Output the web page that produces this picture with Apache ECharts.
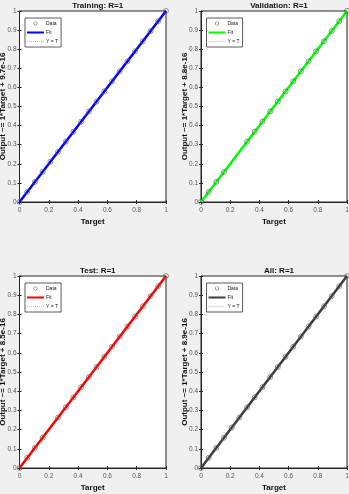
<!DOCTYPE html>
<html>
<head>
<meta charset="utf-8">
<script src="https://cdn.jsdelivr.net/npm/echarts@6/dist/echarts.min.js"></script>
<style>
  html, body { margin: 0; padding: 0; background: #f0f0f0; }
  #chart { width: 349px; height: 494px; }
</style>
</head>
<body>
<div id="chart"></div>
<script>
// targets of each data subset (outputs equal targets, R=1)
const trainingTargets = [0, 0.053, 0.105, 0.158, 0.211, 0.263, 0.316, 0.368, 0.421, 0.474, 0.526, 0.579, 0.632, 0.684, 0.737, 0.789, 0.842, 0.895, 0.947, 1];
const validationTargets = [0, 0.053, 0.105, 0.158, 0.316, 0.368, 0.421, 0.474, 0.526, 0.579, 0.632, 0.684, 0.737, 0.789, 0.842, 0.895, 0.947, 1];
const testTargets = [0, 0.053, 0.105, 0.158, 0.263, 0.316, 0.368, 0.421, 0.474, 0.526, 0.579, 0.632, 0.684, 0.737, 0.789, 0.842, 0.895, 0.947, 1];
const allTargets = [0, 0.053, 0.105, 0.158, 0.211, 0.263, 0.316, 0.368, 0.421, 0.474, 0.526, 0.579, 0.632, 0.684, 0.737, 0.789, 0.842, 0.895, 0.947, 1];

const fitEnds = [0, 1];
const titles = ['Training: R=1', 'Validation: R=1', 'Test: R=1', 'All: R=1'];
const offsets = ['9.7e-16', '8.8e-16', '8.5e-16', '8.9e-16'];
const fitColors = ['#0000ff', '#00ff00', '#ff0000', '#3c3c3c'];
const panelData = [trainingTargets, validationTargets, testTargets, allTargets];

const grids = [
  { left: 19.5, top: 11, width: 146.5, height: 191 },
  { left: 201, top: 11, width: 146, height: 191 },
  { left: 19.5, top: 276, width: 146.5, height: 192 },
  { left: 201, top: 276, width: 146, height: 192 },
];

const font = 'Liberation Sans, Arial, sans-serif';
const axisColor = '#262626';
const labelColor = '#555';

// legend icons: 17x4 boxes (hairline corners keep the box size)
const frame = 'M0,0H17V0.01H0Z M0,3.99H17V4H0Z ';
const ringIcon = 'path://M0,10A10,10 0 1,1 20,10A10,10 0 1,1 0,10Z M3,10A7,7 0 1,0 17,10A7,7 0 1,0 3,10Z';
const fitIcon = 'path://' + frame + 'M0,1H17V3H0Z';
let dots = '';
for (let x = 0; x < 17; x += 2) dots += 'M' + x + ',1.6H' + (x + 1) + 'V2.4H' + x + 'Z ';
const dotIcon = 'path://' + frame + dots;

const option = {
  backgroundColor: '#f0f0f0',
  animation: false,
  textStyle: { fontFamily: font },
  title: [],
  legend: [],
  grid: [],
  xAxis: [],
  yAxis: [],
  series: [],
};

grids.forEach((g, i) => {
  option.grid.push({
    left: g.left, top: g.top, width: g.width, height: g.height,
    outerBoundsMode: 'none', containLabel: false,
    show: true, backgroundColor: '#fff', borderColor: axisColor, borderWidth: 1,
  });

  option.title.push({
    text: titles[i],
    left: g.left + g.width / 2,
    top: g.top - 14,
    textAlign: 'center',
    textStyle: { fontSize: 8, fontWeight: 'bold', color: '#111', fontFamily: font },
  });

  // bottom / left axes with labels
  option.xAxis.push({
    gridIndex: i, type: 'value', min: 0, max: 1, interval: 0.2,
    name: 'Target', nameLocation: 'middle', nameGap: 16, nameMoveOverlap: false,
    nameTextStyle: { fontSize: 8, fontWeight: 'bold', color: '#111' },
    axisLine: { show: true, onZero: false, lineStyle: { color: axisColor } },
    axisTick: { show: true, inside: true, length: 2, lineStyle: { color: axisColor } },
    axisLabel: { fontSize: 6.5, color: labelColor, margin: 5, formatter: v => String(+v.toFixed(1)) },
    splitLine: { show: false },
  });
  option.yAxis.push({
    gridIndex: i, type: 'value', min: 0, max: 1, interval: 0.1,
    name: 'Output ~= 1*Target + ' + offsets[i], nameLocation: 'middle', nameGap: 12.5, nameMoveOverlap: false,
    nameTextStyle: { fontSize: 8, fontWeight: 'bold', color: '#111' },
    axisLine: { show: true, onZero: false, lineStyle: { color: axisColor } },
    axisTick: { show: true, inside: true, length: 2, lineStyle: { color: axisColor } },
    axisLabel: { fontSize: 6.5, color: labelColor, margin: 3, formatter: v => String(+v.toFixed(1)) },
    splitLine: { show: false },
  });
  // top / right box ticks
  option.xAxis.push({
    gridIndex: i, type: 'value', min: 0, max: 1, interval: 0.2, position: 'top',
    axisLine: { show: false },
    axisTick: { show: true, inside: true, length: 2, lineStyle: { color: axisColor } },
    axisLabel: { show: false }, splitLine: { show: false },
  });
  option.yAxis.push({
    gridIndex: i, type: 'value', min: 0, max: 1, interval: 0.1, position: 'right',
    axisLine: { show: false },
    axisTick: { show: true, inside: true, length: 2, lineStyle: { color: axisColor } },
    axisLabel: { show: false }, splitLine: { show: false },
  });

  const xi = i * 2, yi = i * 2;
  option.series.push({
    name: 'Y = T', type: 'line', xAxisIndex: xi, yAxisIndex: yi,
    data: fitEnds.map(v => [v, v]), symbol: 'none', silent: true,
    lineStyle: { color: '#9a9a9a', width: 1, type: 'dotted' }, z: 2,
  });
  option.series.push({
    name: 'Fit', type: 'line', xAxisIndex: xi, yAxisIndex: yi,
    data: fitEnds.map(v => [v, v]), symbol: 'none', silent: true,
    lineStyle: { color: fitColors[i], width: 2.5 }, itemStyle: { color: fitColors[i] }, z: 3,
  });
  option.series.push({
    name: 'Data', type: 'scatter', xAxisIndex: xi, yAxisIndex: yi,
    data: panelData[i].map(v => [v, v]), symbol: 'circle', symbolSize: 5,
    itemStyle: { color: 'rgba(0,0,0,0)', borderColor: '#5a5a5a', borderWidth: 0.8 }, z: 4,
  });

  option.legend.push({
    left: g.left + 5.5, top: g.top + 7,
    orient: 'vertical',
    data: [
      { name: 'Data', icon: ringIcon, itemStyle: { color: '#444', borderWidth: 0 } },
      { name: 'Fit', icon: fitIcon, itemStyle: { color: fitColors[i], borderWidth: 0 } },
      { name: 'Y = T', icon: dotIcon, itemStyle: { color: '#c4c4c4', borderWidth: 0 } },
    ],
    itemWidth: 17, itemHeight: 4, itemGap: 4,
    padding: [3, 3, 3, 2],
    backgroundColor: '#fff', borderColor: '#333', borderWidth: 0.8,
    selectedMode: false,
    textStyle: { fontSize: 5, color: '#222', padding: [0, 0, 0, -3] },
  });
});

const chart = echarts.init(document.getElementById('chart'), null, { renderer: 'canvas' });
chart.setOption(option);
</script>
</body>
</html>
